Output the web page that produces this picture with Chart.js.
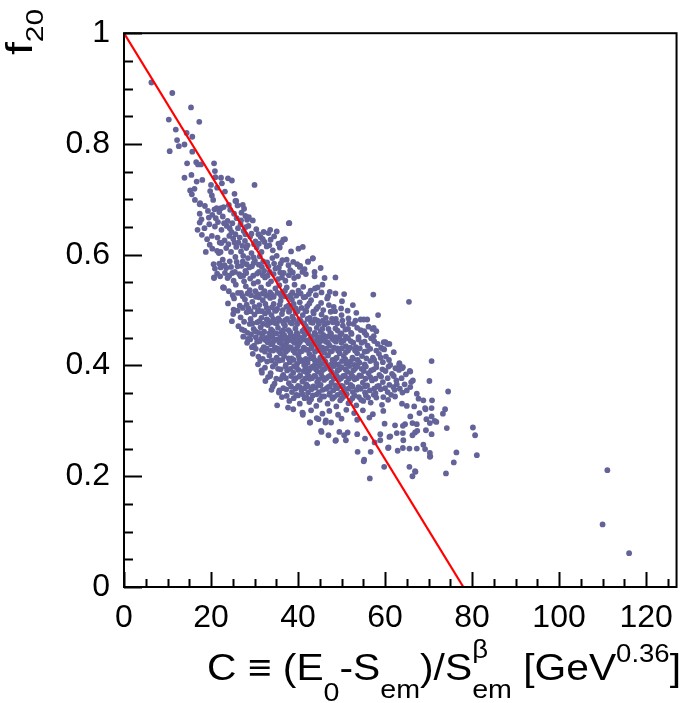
<!DOCTYPE html>
<html>
<head>
<meta charset="utf-8">
<script src="https://cdn.jsdelivr.net/npm/chart.js@4.4.0/dist/chart.umd.min.js"></script>
<style>
html, body { margin: 0; padding: 0; background: #fff; }
</style>
</head>
<body>
<canvas id="chart" width="685" height="703"></canvas>
<script>
// events: [C, f20]
const events = [
    // sparse upper-left tail
    [6.3,0.911],[11.1,0.892],[15.4,0.866],[10.3,0.844],[17.3,0.840],[11.9,0.826],[14.4,0.820],[15.7,0.813],[12.2,0.807],[13.9,0.799],
    [12.6,0.796],[10.5,0.787],[15.7,0.786],[14.5,0.765],[16.6,0.767],[17.0,0.763],[17.7,0.763],[20.7,0.765],[15.5,0.744],[13.9,0.739],
    [20.9,0.751],[16.7,0.732],[18.0,0.735],[21.0,0.740],[22.3,0.739],[23.9,0.738],[24.8,0.734],[20.0,0.726],[22.5,0.729],[30.0,0.726],
    [15.2,0.716],[16.2,0.719],[19.8,0.715],[21.4,0.721],[23.2,0.714],[15.6,0.709],[16.3,0.699],[20.2,0.707],[20.5,0.699],[25.4,0.710],
    [25.8,0.697],[17.5,0.693],
    [17.4,0.691],[21.3,0.684],[22.3,0.684],[24.1,0.690],[25.6,0.697],[27.3,0.690],[27.6,0.683],[17.4,0.674],[19.5,0.667],[21.1,0.666],
    [27.9,0.670],[28.3,0.663],[17.4,0.658],[16.9,0.645],[17.9,0.636],[20.2,0.634],[18.8,0.605],[19.7,0.618],[22.0,0.622],[21.4,0.607],
    [22.2,0.605],[20.9,0.575],[20.7,0.558],[22.8,0.541],[22.2,0.577],[37.9,0.657],[41.1,0.614],[37.0,0.628],[35.5,0.620],[35.1,0.642],
    [33.2,0.639],[43.4,0.593],[42.3,0.587],[40.4,0.578],[41.5,0.574],[43.8,0.569],
    [57.3,0.528],[58.4,0.491],[48.6,0.559],[43.4,0.594],[38.0,0.657],[65.5,0.515],[36.6,0.627],[33.6,0.645],[44.5,0.541],[46.1,0.558],
    [50.6,0.529],[54.4,0.483],[55.9,0.483],[57.4,0.468],[55.2,0.462],[59.7,0.442],[60.5,0.439],
    // left edge of the band
    [20.7,0.559],[23.0,0.540],[25.2,0.501],[24.8,0.480],[27.1,0.465],[28.5,0.448],[29.4,0.433],[31.3,0.410],[31.7,0.387],[33.6,0.381],
    [35.7,0.355],[35.2,0.328],[37.7,0.324],[41.1,0.314],[42.8,0.297],[44.4,0.260],
    // 0.60 - 0.69
    [18.6,0.688],[20.8,0.682],[22.9,0.686],[24.4,0.681],[26.1,0.689],[21.9,0.677],[27.0,0.676],[25.3,0.674],[19.3,0.679],
    [17.8,0.664],[20.3,0.672],[22.7,0.669],[23.8,0.661],[25.9,0.666],[28.7,0.668],[24.9,0.657],[21.6,0.659],[26.8,0.655],[29.6,0.662],
    [18.5,0.648],[20.9,0.651],[22.4,0.645],[23.6,0.652],[24.7,0.641],[26.2,0.648],[27.5,0.643],[28.6,0.652],[30.4,0.646],[25.6,0.637],
    [29.3,0.638],[32.1,0.641],
    [19.1,0.628],[21.5,0.631],[23.1,0.626],[24.2,0.634],[25.4,0.622],[26.6,0.631],[27.8,0.625],[29.0,0.633],[30.2,0.624],[31.4,0.632],
    [22.4,0.621],[28.4,0.617],[33.7,0.627],[36.2,0.622],
    [20.3,0.611],[21.8,0.603],[23.5,0.612],[24.6,0.605],[25.8,0.614],[26.9,0.606],[28.1,0.612],[29.3,0.603],[30.5,0.613],[31.6,0.605],
    [32.8,0.615],[34.2,0.608],[35.8,0.613],[27.4,0.598],[29.8,0.595],[38.4,0.606],[40.1,0.611],
    [24.0,0.619],[26.3,0.622],[27.2,0.616],[29.9,0.619],[31.0,0.620],[32.3,0.623],[33.4,0.617],
    [19.6,0.655],[23.0,0.657],[24.3,0.648],[26.9,0.662],[28.0,0.650],[30.9,0.637],[31.9,0.628],[34.5,0.633],[25.1,0.629],[27.9,0.637],
    // 0.55 - 0.60
    [20.6,0.583],[21.4,0.566],[22.7,0.591],[23.5,0.576],[24.3,0.588],[24.9,0.567],[25.6,0.596],[26.1,0.579],[26.8,0.561],[27.3,0.588],
    [27.9,0.571],[28.5,0.594],[29.0,0.557],[29.4,0.579],[30.1,0.589],[30.6,0.566],[31.2,0.597],[31.7,0.578],[32.4,0.559],[32.9,0.586],
    [33.5,0.569],[34.1,0.594],[34.8,0.575],[35.4,0.556],[36.0,0.584],[36.7,0.567],[37.4,0.591],[38.2,0.572],[39.1,0.558],[39.8,0.583],
    [41.0,0.569],[42.3,0.588],[43.8,0.561],[45.2,0.576],[25.2,0.553],[27.6,0.552],[30.8,0.551],[33.8,0.552],[37.1,0.553],[28.2,0.583],
    [23.8,0.558],[35.1,0.598],[32.2,0.571],
    [21.9,0.584],[23.1,0.581],[24.6,0.578],[25.9,0.587],[27.0,0.580],[28.8,0.577],[29.8,0.585],[31.0,0.582],[32.0,0.588],[33.2,0.579],
    [34.5,0.584],[35.6,0.577],[36.4,0.590],[37.8,0.581],[38.9,0.587],[40.5,0.580],
    [22.1,0.561],[23.2,0.567],[24.2,0.562],[25.5,0.569],[26.5,0.565],[27.4,0.562],[28.1,0.567],[29.7,0.562],[31.0,0.569],[31.9,0.563],
    [33.0,0.562],[34.4,0.565],[35.9,0.568],[36.3,0.559],[37.9,0.563],[38.8,0.568],[40.0,0.561],[41.8,0.565],
    // 0.50 - 0.55
    [22.8,0.541],[24.1,0.534],[25.7,0.546],[26.9,0.531],[28.0,0.543],[28.9,0.536],[29.8,0.548],[30.7,0.529],[31.5,0.541],[32.3,0.534],
    [33.2,0.547],[34.0,0.528],[34.8,0.539],[35.7,0.545],[36.5,0.532],[37.4,0.541],[38.3,0.527],[39.2,0.546],[40.1,0.535],[41.2,0.542],
    [42.5,0.529],[43.9,0.539],[45.6,0.546],[47.3,0.533],
    [25.0,0.527],[26.2,0.531],[27.3,0.525],[28.4,0.530],[29.2,0.527],[30.2,0.534],[31.0,0.523],[31.9,0.530],[32.7,0.526],[33.6,0.532],
    [34.4,0.524],[35.3,0.531],[36.1,0.526],[37.0,0.535],[37.8,0.524],[38.7,0.532],[39.6,0.526],[40.6,0.530],[41.7,0.524],[42.9,0.535],
    [44.1,0.527],[45.4,0.532],[46.9,0.525],[48.6,0.530],
    [23.9,0.512],[25.3,0.521],[26.6,0.508],[27.8,0.519],[28.6,0.503],[29.5,0.515],[30.3,0.524],[31.1,0.509],[31.9,0.518],[32.8,0.504],
    [33.6,0.522],[34.4,0.511],[35.2,0.502],[36.0,0.517],[36.9,0.525],[37.8,0.508],[38.6,0.519],[39.5,0.503],[40.4,0.514],[41.3,0.523],
    [42.1,0.507],[43.0,0.518],[44.2,0.502],[45.3,0.513],[46.7,0.521],[48.2,0.506],[50.1,0.516],[52.6,0.509],
    [26.1,0.499],[27.3,0.504],[28.2,0.510],[29.1,0.498],[30.0,0.506],[30.9,0.500],[31.7,0.498],[32.5,0.511],[33.2,0.497],[34.0,0.505],
    [34.9,0.499],[35.8,0.510],[36.5,0.500],[37.3,0.506],[38.1,0.499],[39.0,0.511],[39.9,0.498],[40.8,0.504],[41.7,0.499],[42.6,0.512],
    [43.5,0.497],[44.6,0.506],[45.8,0.500],[47.1,0.509],[48.5,0.498],[49.9,0.503],[51.4,0.499],
    // 0.45 - 0.50
    [25.1,0.493],[26.8,0.487],[28.2,0.496],[29.1,0.484],[30.0,0.492],[30.8,0.498],[31.6,0.486],[32.4,0.494],[33.1,0.481],[33.9,0.491],
    [34.7,0.499],[35.5,0.485],[36.3,0.493],[37.1,0.482],[37.9,0.497],[38.7,0.488],[39.5,0.495],[40.3,0.483],[41.1,0.491],[41.9,0.498],
    [42.7,0.486],[43.6,0.494],[44.5,0.481],[45.4,0.492],[46.4,0.486],[47.5,0.497],[48.7,0.484],[50.0,0.491],[51.6,0.485],[53.4,0.495],
    [55.1,0.483],
    [27.6,0.479],[29.5,0.476],[31.1,0.480],[32.0,0.475],[32.8,0.483],[33.5,0.477],[34.3,0.484],[35.1,0.476],[35.9,0.481],[36.7,0.476],
    [37.5,0.484],[38.2,0.478],[39.0,0.483],[39.8,0.475],[40.6,0.481],[41.4,0.476],[42.2,0.484],[43.0,0.478],[43.9,0.483],[44.8,0.475],
    [45.7,0.481],[46.8,0.477],[47.8,0.484],[49.0,0.476],[50.2,0.481],[51.7,0.476],[53.2,0.481],
    [26.3,0.471],[27.7,0.463],[28.9,0.475],[29.8,0.466],[30.6,0.478],[31.4,0.469],[32.2,0.461],[33.0,0.473],[33.8,0.465],[34.6,0.477],
    [35.4,0.468],[36.2,0.460],[37.0,0.472],[37.8,0.464],[38.6,0.476],[39.4,0.467],[40.2,0.479],[41.0,0.462],[41.8,0.471],[42.6,0.465],
    [43.4,0.477],[44.3,0.468],[45.2,0.461],[46.1,0.474],[47.0,0.466],[48.0,0.478],[49.1,0.463],[50.3,0.472],[51.5,0.466],[52.8,0.475],
    [54.4,0.464],[56.2,0.470],[58.0,0.462],
    [28.4,0.459],[30.2,0.462],[31.0,0.459],[33.4,0.458],[34.2,0.462],[36.6,0.464],[38.2,0.460],[39.7,0.459],[41.4,0.465],[43.8,0.459],
    [45.6,0.466],[47.4,0.459],[48.6,0.467],[50.0,0.458],[50.9,0.465],[52.2,0.459],[53.6,0.468],[55.3,0.459],[57.1,0.466],
    [27.4,0.452],[29.2,0.456],[30.3,0.451],[31.8,0.457],[32.7,0.450],[34.1,0.454],[35.0,0.458],[35.9,0.451],[36.8,0.455],[37.5,0.450],
    [38.3,0.457],[39.0,0.452],[39.9,0.456],[40.7,0.450],[41.5,0.455],[42.3,0.458],[43.1,0.452],[44.0,0.456],[44.9,0.451],[45.8,0.455],
    [46.7,0.452],[47.6,0.457],[48.6,0.451],[49.7,0.455],[51.0,0.452],[52.3,0.457],[53.9,0.451],[55.7,0.455],[57.4,0.453],
    // 0.40 - 0.45
    [29.0,0.447],[30.6,0.443],[31.6,0.449],[32.5,0.446],[33.4,0.449],[34.2,0.441],[35.0,0.447],[35.7,0.442],[36.5,0.448],[37.3,0.441],
    [38.0,0.449],[38.8,0.444],[39.6,0.448],[40.4,0.442],[41.2,0.449],[42.0,0.445],[42.8,0.448],[43.6,0.441],[44.4,0.449],[45.2,0.444],
    [46.0,0.448],[46.9,0.441],[47.8,0.449],[48.7,0.443],[49.6,0.448],[50.5,0.445],[51.5,0.449],[52.7,0.441],[53.9,0.447],[55.3,0.443],
    [56.8,0.449],[58.3,0.439],
    [28.3,0.441],[29.9,0.436],[31.2,0.444],[32.1,0.433],[33.0,0.442],[33.8,0.438],[34.6,0.446],[35.3,0.431],[36.1,0.440],[36.9,0.435],
    [37.7,0.445],[38.4,0.432],[39.2,0.441],[40.0,0.436],[40.8,0.446],[41.6,0.430],[42.4,0.440],[43.2,0.434],[44.0,0.444],[44.8,0.437],
    [45.6,0.432],[46.4,0.443],[47.3,0.436],[48.2,0.446],[49.1,0.431],[50.0,0.441],[51.0,0.435],[52.1,0.444],[53.3,0.433],[54.6,0.441],
    [56.0,0.436],[57.5,0.444],[59.1,0.432],[61.0,0.439],
    [30.3,0.430],[31.7,0.428],[32.8,0.431],[33.7,0.427],[34.7,0.432],[35.6,0.426],[36.4,0.431],[37.2,0.425],[38.0,0.433],[38.9,0.427],
    [39.7,0.431],[40.5,0.425],[41.3,0.432],[42.1,0.428],[43.0,0.431],[43.9,0.425],[44.7,0.433],[45.6,0.428],[46.5,0.431],[47.4,0.425],
    [48.3,0.432],[49.2,0.427],[50.1,0.431],[51.0,0.424],[52.0,0.432],[53.1,0.427],[54.2,0.431],[55.3,0.425],[56.6,0.430],[58.0,0.427],
    [59.8,0.429],
    [29.6,0.421],[30.9,0.416],[32.4,0.425],[33.4,0.418],[34.3,0.427],[35.1,0.414],[36.0,0.422],[36.8,0.417],[37.6,0.428],[38.5,0.413],
    [39.3,0.423],[40.1,0.418],[40.9,0.426],[41.8,0.412],[42.6,0.421],[43.5,0.416],[44.3,0.427],[45.1,0.414],[46.0,0.423],[46.9,0.418],
    [47.8,0.426],[48.7,0.413],[49.6,0.422],[50.5,0.417],[51.5,0.427],[52.5,0.414],[53.6,0.422],[54.7,0.417],[55.9,0.426],[57.2,0.414],
    [58.6,0.421],[60.2,0.416],[62.0,0.424],
    [31.9,0.412],[33.9,0.409],[35.0,0.413],[36.4,0.410],[37.8,0.413],[39.0,0.410],[40.3,0.412],[41.1,0.409],[42.9,0.413],[43.8,0.410],
    [45.9,0.412],[47.9,0.410],[48.9,0.414],[50.9,0.411],[52.7,0.412],[53.7,0.410],[55.7,0.413],[57.5,0.410],[59.0,0.414],[60.9,0.410],
    [30.8,0.402],[32.9,0.407],[34.8,0.403],[35.7,0.409],[37.2,0.401],[38.1,0.406],[39.8,0.403],[40.6,0.408],[41.4,0.401],[42.2,0.405],
    [43.9,0.402],[44.7,0.408],[45.5,0.403],[46.3,0.407],[47.4,0.401],[48.3,0.406],[49.2,0.402],[50.1,0.408],[51.1,0.403],[52.0,0.407],
    [53.0,0.401],[54.1,0.405],[55.3,0.402],[56.6,0.408],[58.0,0.403],[59.5,0.406],[61.2,0.401],[63.3,0.404],
    // 0.35 - 0.40
    [32.4,0.396],[34.2,0.398],[36.0,0.393],[37.1,0.398],[38.3,0.394],[39.1,0.399],[40.1,0.392],[41.8,0.397],[42.5,0.391],[43.3,0.398],
    [44.1,0.393],[44.9,0.399],[45.7,0.392],[46.6,0.398],[47.4,0.393],[48.3,0.399],[49.1,0.391],[50.0,0.397],[50.9,0.393],[51.8,0.399],
    [52.7,0.391],[53.6,0.398],[54.6,0.394],[55.6,0.398],[56.8,0.391],[58.0,0.397],[59.4,0.393],[60.8,0.398],[62.4,0.395],
    [31.6,0.391],[33.7,0.386],[35.4,0.394],[36.6,0.383],[37.5,0.391],[38.9,0.387],[39.7,0.396],[40.5,0.382],[41.3,0.390],[42.1,0.386],
    [42.9,0.395],[43.7,0.381],[44.5,0.389],[45.3,0.385],[46.1,0.394],[47.0,0.380],[47.8,0.388],[48.7,0.384],[49.5,0.393],[50.4,0.381],
    [51.3,0.389],[52.2,0.385],[53.1,0.394],[54.1,0.382],[55.1,0.390],[56.2,0.386],[57.4,0.393],[58.7,0.383],[60.1,0.390],[61.6,0.385],
    [63.2,0.392],[64.8,0.384],
    [33.1,0.379],[35.0,0.376],[36.4,0.380],[37.2,0.377],[38.4,0.381],[39.5,0.377],[40.3,0.380],[41.6,0.376],[42.4,0.381],[43.2,0.377],
    [44.0,0.380],[44.8,0.375],[45.6,0.379],[46.5,0.377],[47.3,0.381],[48.2,0.376],[49.0,0.380],[49.9,0.377],[50.8,0.381],[51.7,0.376],
    [52.6,0.380],[53.5,0.377],[54.5,0.381],[55.5,0.376],[56.6,0.379],[57.8,0.376],[59.1,0.380],[60.6,0.377],[62.0,0.381],[63.8,0.377],
    [32.5,0.372],[34.6,0.367],[36.0,0.375],[37.9,0.368],[39.1,0.373],[40.0,0.363],[41.0,0.371],[41.9,0.366],[42.7,0.376],[43.5,0.362],
    [44.4,0.370],[45.2,0.365],[46.0,0.374],[46.9,0.361],[47.7,0.369],[48.6,0.364],[49.4,0.374],[50.3,0.362],[51.2,0.370],[52.1,0.365],
    [53.0,0.375],[53.9,0.361],[54.9,0.369],[55.9,0.364],[57.0,0.373],[58.2,0.362],[59.5,0.370],[61.0,0.365],[62.6,0.373],[64.5,0.366],
    [66.0,0.370],
    [34.2,0.362],[36.6,0.359],[38.4,0.362],[39.4,0.358],[40.4,0.361],[41.5,0.359],[42.3,0.362],[44.0,0.360],[44.8,0.364],[46.5,0.358],
    [47.3,0.362],[49.0,0.359],[50.0,0.363],[51.6,0.358],[52.5,0.362],[54.4,0.358],[55.4,0.362],[57.5,0.358],[58.6,0.363],[60.0,0.359],
    [61.9,0.361],[63.4,0.358],
    [33.9,0.356],[35.6,0.351],[37.3,0.357],[38.6,0.352],[40.8,0.355],[42.3,0.351],[43.1,0.357],[44.8,0.352],[45.7,0.356],[47.3,0.350],
    [48.1,0.355],[49.9,0.351],[50.8,0.357],[52.6,0.352],[53.5,0.356],[55.4,0.351],[56.5,0.355],[57.8,0.350],[59.0,0.357],[60.6,0.352],
    [62.2,0.356],[64.0,0.351],
    // 0.30 - 0.35
    [37.4,0.345],[39.0,0.341],[40.0,0.346],[41.1,0.348],[42.0,0.342],[43.0,0.339],[44.3,0.348],[45.5,0.344],[47.2,0.347],[48.3,0.343],
    [49.1,0.347],[50.1,0.341],[51.2,0.348],[52.0,0.336],[53.0,0.346],[54.0,0.343],[55.0,0.336],[56.1,0.342],[57.4,0.347],[59.6,0.343],
    [61.4,0.347],
    [36.3,0.343],[38.0,0.336],[39.6,0.347],[40.4,0.331],[41.5,0.341],[42.6,0.334],[43.4,0.346],[44.2,0.327],[45.0,0.338],[46.0,0.344],
    [46.8,0.331],[47.9,0.340],[48.8,0.326],[49.7,0.337],[50.6,0.345],[51.6,0.332],[52.5,0.341],[53.4,0.328],[54.5,0.338],[55.6,0.346],
    [56.7,0.333],[58.0,0.342],[59.3,0.329],[60.7,0.338],[62.3,0.344],[63.9,0.331],[38.9,0.321],[41.0,0.315],[43.0,0.319],[45.6,0.313],
    [47.2,0.318],[49.2,0.311],[51.1,0.320],[52.9,0.314],[54.9,0.319],[57.2,0.312],[59.6,0.318],[44.3,0.305],[46.4,0.301],[50.0,0.304],
    [53.6,0.302],[56.4,0.306],
    // sparse lower / right tail
    [70.7,0.408],[74.5,0.353],[70.2,0.372],[80.2,0.288],[80.7,0.274],[81.1,0.238],[76.4,0.243],[75.8,0.225],[74.0,0.205],[70.4,0.236],
    [66.9,0.209],[65.6,0.217],[66.3,0.200],[59.8,0.217],[56.5,0.196],[53.7,0.244],[56.7,0.244],[55.2,0.230],[60.8,0.252],[62.9,0.246],
    [64.1,0.251],[65.6,0.250],[67.3,0.250],[69.2,0.249],[58.9,0.265],[57.6,0.261],[55.4,0.268],[53.6,0.276],[51.0,0.265],[48.6,0.264],
    [47.0,0.274],[45.3,0.282],[47.6,0.297],[49.5,0.280],[51.4,0.279],[58.9,0.276],[61.0,0.271],[62.7,0.278],[64.1,0.278],[66.9,0.279],
    [67.3,0.294],[62.3,0.292],[64.6,0.294],[69.5,0.303],[70.7,0.276],[71.4,0.300],[73.3,0.313],[70.7,0.308],[69.2,0.323],[68.8,0.337],
    [66.7,0.326],[65.0,0.327],[67.3,0.349],[65.8,0.361],[66.4,0.373],[65.7,0.390],[63.9,0.395],[60.1,0.442],[42.7,0.297],[41.1,0.311],
    [70.8,0.337],[73.8,0.321],[74.2,0.287],[70.3,0.242],[70.3,0.235],[68.8,0.257],[67.0,0.208],[60.7,0.251],[64.2,0.265],[61.2,0.272],
    [66.3,0.274],[67.4,0.282],[69.4,0.283],[59.9,0.295],[64.1,0.291],[66.3,0.296],[70.3,0.296],[71.8,0.298],[70.7,0.323],[69.3,0.321],
    [67.9,0.314],[65.8,0.308],[67.7,0.340],[65.8,0.389],[63.3,0.402],[55.1,0.227],[50.6,0.274],[48.7,0.265],[45.4,0.280],[46.3,0.297],
    [44.7,0.303],[59.5,0.430],[63.3,0.400],[64.1,0.397],[62.7,0.366],[65.0,0.355],
    // far outliers
    [111.1,0.211],[110.0,0.113],[116.1,0.061]
];

const fitLine = [[0, 1], [78, 0]];
const xTicks = [0, 20, 40, 60, 80, 100, 120];
const yTicks = [0, 0.2, 0.4, 0.6, 0.8, 1];

const FONT = "'Liberation Sans', Arial, Helvetica, sans-serif";

// label pieces: [text, baseline shift, font size, "hold" = next piece stacks on it]
function richWidth(ctx, parts) {
    let w = 0, held = 0;
    parts.forEach(function (p) {
        ctx.font = p[2] + "px " + FONT;
        const pw = ctx.measureText(p[0]).width;
        if (p[3] === "hold") { held = pw; return; }
        w += Math.max(pw, held);
        held = 0;
    });
    return w;
}

function drawRich(ctx, parts, x, y) {
    let held = 0;
    parts.forEach(function (p) {
        ctx.font = p[2] + "px " + FONT;
        const pw = ctx.measureText(p[0]).width;
        ctx.fillText(p[0], x, y + p[1]);
        if (p[3] === "hold") { held = pw; return; }
        x += Math.max(pw, held);
        held = 0;
    });
}

const frame = {
    id: "frame",
    afterDatasetsDraw(chart) {
        const ctx = chart.ctx;
        const a = chart.chartArea;
        const xs = chart.scales.x;
        const ys = chart.scales.y;
        ctx.save();
        ctx.strokeStyle = "#000";
        ctx.lineWidth = 2;
        ctx.strokeRect(a.left, a.top, a.right - a.left, a.bottom - a.top);

        ctx.beginPath();
        for (let v = 0; v <= xs.max; v += 5) {
            const px = Math.round(xs.getPixelForValue(v)) + 0.5;
            const len = v % 20 === 0 ? 15 : 8;
            ctx.moveTo(px, a.bottom);
            ctx.lineTo(px, a.bottom - len);
        }
        for (let i = 0; i <= 20; i++) {
            const py = Math.round(ys.getPixelForValue(i * 0.05)) + 0.5;
            const len = i % 4 === 0 ? 18 : 9;
            ctx.moveTo(a.left, py);
            ctx.lineTo(a.left + len, py);
        }
        ctx.stroke();

        // x title
        ctx.fillStyle = "#000";
        ctx.textAlign = "left";
        ctx.textBaseline = "alphabetic";
        const xParts = [
            ["C \u2261 (E", 0, 37],
            ["0", 21, 26],
            ["-S", 0, 37],
            ["em", 18, 26],
            [")/S", 0, 37],
            ["em", 18, 26, "hold"],
            ["\u03b2", -22, 25],
            [" [GeV", 0, 37],
            ["0.36", -18, 25],
            ["]", 0, 37]
        ];
        const w = richWidth(ctx, xParts);
        ctx.save();
        ctx.translate(207, 680);
        ctx.scale(474 / w, 1);
        drawRich(ctx, xParts, 0, 0);
        ctx.restore();

        // y title, rotated
        ctx.save();
        ctx.translate(32, 55);
        ctx.rotate(-Math.PI / 2);
        ctx.scale(1.25, 1);
        drawRich(ctx, [["f", 0, 37], ["20", 11, 24]], 0, 0);
        ctx.restore();
        ctx.restore();
    }
};

new Chart(document.getElementById("chart"), {
    type: "scatter",
    data: {
        datasets: [
            {
                label: "fit",
                type: "line",
                data: fitLine.map(function (p) { return { x: p[0], y: p[1] }; }),
                borderColor: "#ff0000",
                borderWidth: 2.2,
                pointRadius: 0,
                fill: false,
                order: 0
            },
            {
                label: "events",
                data: events.map(function (p) { return { x: p[0], y: p[1] }; }),
                backgroundColor: "#63639a",
                borderWidth: 0,
                pointRadius: 2.9,
                order: 1
            }
        ]
    },
    options: {
        responsive: false,
        animation: false,
        layout: { padding: { top: 13, right: 2, left: 0, bottom: 0 } },
        plugins: { legend: { display: false }, tooltip: { enabled: false } },
        scales: {
            x: {
                type: "linear",
                min: 0,
                max: 127,
                grid: { display: false, drawTicks: false },
                border: { display: false },
                afterBuildTicks: function (s) { s.ticks = xTicks.map(function (v) { return { value: v }; }); },
                afterFit: function (s) { s.height = 116; },
                ticks: {
                    color: "#000",
                    font: { family: FONT, size: 32 },
                    padding: 12,
                    maxRotation: 0,
                    callback: function (v) { return String(v); }
                }
            },
            y: {
                type: "linear",
                min: 0,
                max: 1,
                grid: { display: false, drawTicks: false },
                border: { display: false },
                afterBuildTicks: function (s) { s.ticks = yTicks.map(function (v) { return { value: v }; }); },
                afterFit: function (s) { s.width = 124; },
                ticks: {
                    color: "#000",
                    font: { family: FONT, size: 32 },
                    padding: 14,
                    callback: function (v) { return String(Math.round(v * 10) / 10); }
                }
            }
        }
    },
    plugins: [frame]
});
</script>
</body>
</html>
